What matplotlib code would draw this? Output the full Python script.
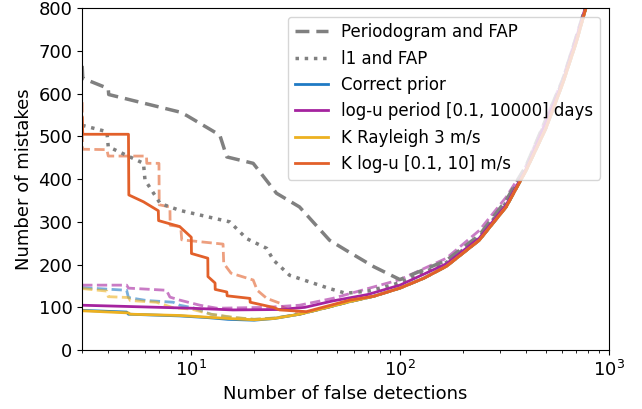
import numpy as np
import matplotlib
matplotlib.use("Agg")
import matplotlib.pyplot as plt

# common rising tail (false detections dominate at large x)
tail_x = [33, 45, 57, 75, 100, 130, 167, 240, 323, 403, 500, 603, 700, 778, 830]
tail_y = [84, 100, 113, 126, 145, 168, 196, 257, 335, 421, 518, 624, 720, 800, 855]

# Periodogram and FAP
per_x = [3, 3.02, 4.0, 4.02, 8.8, 9.5, 13.7, 14.8, 19.8, 25.6, 33, 46, 55, 75, 100,
         167, 240, 323, 403, 603, 778, 820]
per_y = [665, 636, 612, 598, 557, 549, 503, 452, 437, 367, 335, 257, 234, 195, 165,
         210, 269, 351, 432, 632, 805, 850]

# l1 and FAP
l1_x = [3, 3.94, 4.0, 5.9, 6.0, 7.1, 8.8, 15.3, 18.4, 23, 24.7, 29.6, 46, 55, 70, 85, 100,
        167, 240, 323, 403, 603, 778, 820]
l1_y = [526, 511, 476, 437, 398, 343, 327, 300, 261, 238, 211, 175, 144, 133, 138, 148, 158,
        205, 264, 345, 428, 630, 803, 850]

# Correct prior
blue_x = [3, 4.9, 5.0, 8.8, 12, 15, 20, 25]
blue_y = [93, 89, 84, 80, 76, 72, 70, 74]
blue_dx = [3, 4.9, 5.0, 6.1, 8.2, 8.8, 10.2, 12.4, 15.8, 20, 25]
blue_dy = [146, 140, 123, 116, 112, 105, 99, 84, 76, 72, 75]

# log-u period
pur_x = [3, 10, 15.8, 26.5, 35, 47.6, 70, 100, 167, 240, 323, 403, 603, 778, 820]
pur_y = [105, 98, 94, 95, 100, 115, 130, 152, 202, 262, 340, 425, 628, 803, 850]
pur_dx = [3, 4.9, 5.0, 7.6, 7.9, 8.8, 11, 13.3, 23, 33, 47.6, 92, 100, 167, 240, 323, 403, 603, 778, 820]
pur_dy = [152, 152, 145, 140, 124, 117, 105, 98, 100, 105, 121, 160, 165, 215, 280, 358, 432, 635, 805, 850]

# K Rayleigh
yel_x = [3, 5.0, 5.1, 8.8, 15, 20, 25]
yel_y = [92, 87, 84, 81, 74, 71, 74]
yel_dx = [3, 3.94, 4.0, 5.0, 5.1, 6.8, 8.2, 10, 12.4, 15.8, 20, 25]
yel_dy = [144, 138, 125, 123, 116, 112, 99, 96, 84, 77, 72, 75]

# K log-u
ora_x = [3, 3.02, 5.0, 5.02, 5.9, 6.95, 6.97, 8.8, 10.0, 10.02, 12, 12.02, 13, 13.02,
         14.8, 14.85, 19.1, 19.15, 24.7, 26.5, 35.6, 57.5]
ora_y = [545, 505, 505, 363, 347, 326, 303, 289, 264, 226, 215, 172, 157, 142,
         136, 127, 121, 112, 100, 94, 90, 117]
ora_dx = [3, 3.01, 3.94, 4.0, 6.1, 6.12, 7.0, 7.02, 7.9, 7.92, 8.9, 9.0, 14.2, 14.3,
          15.5, 19.8, 20.7, 23, 26.5, 27]
ora_dy = [580, 470, 469, 454, 454, 437, 437, 340, 335, 292, 289, 258, 248, 203,
          180, 164, 140, 121, 110, 102]

c_blue = "#1f7ac4"
c_pur = "#a5239f"
c_yel = "#edb120"
c_ora = "#e2602a"

fig, ax = plt.subplots(figsize=(6.42, 4.09), dpi=100)
fig.subplots_adjust(left=0.128, right=0.948, top=0.980, bottom=0.144)

# lighter dashed variants
ax.plot(blue_dx + tail_x, blue_dy + tail_y, "--", color=c_blue, lw=2, alpha=0.6)
ax.plot(yel_dx + tail_x, yel_dy + tail_y, "--", color=c_yel, lw=2, alpha=0.6)
ax.plot(ora_dx + tail_x, ora_dy + tail_y, "--", color=c_ora, lw=2, alpha=0.6)
ax.plot(pur_dx, pur_dy, "--", color=c_pur, lw=2, alpha=0.6)

ax.plot(per_x, per_y, "--", color="gray", lw=2.5, dashes=(4, 2), label="Periodogram and FAP")
ax.plot(l1_x, l1_y, ":", color="gray", lw=2.5, label="l1 and FAP")
ax.plot(blue_x + tail_x, blue_y + tail_y, color=c_blue, lw=2, label="Correct prior")
ax.plot(pur_x, pur_y, color=c_pur, lw=2, label="log-u period [0.1, 10000] days")
ax.plot(yel_x + tail_x, yel_y + tail_y, color=c_yel, lw=2, label="K Rayleigh 3 m/s")
ax.plot(ora_x + tail_x[3:], ora_y + tail_y[3:], color=c_ora, lw=2, label="K log-u [0.1, 10] m/s")

ax.set_xscale("log")
ax.set_xlim(3, 1000)
ax.set_ylim(0, 800)
ax.set_yticks(np.arange(0, 801, 100))
ax.tick_params(labelsize=13)
ax.set_xlabel("Number of false detections", fontsize=13)
ax.set_ylabel("Number of mistakes", fontsize=13)
ax.legend(loc="upper right", fontsize=12)

plt.savefig("out.png")
plt.close()
